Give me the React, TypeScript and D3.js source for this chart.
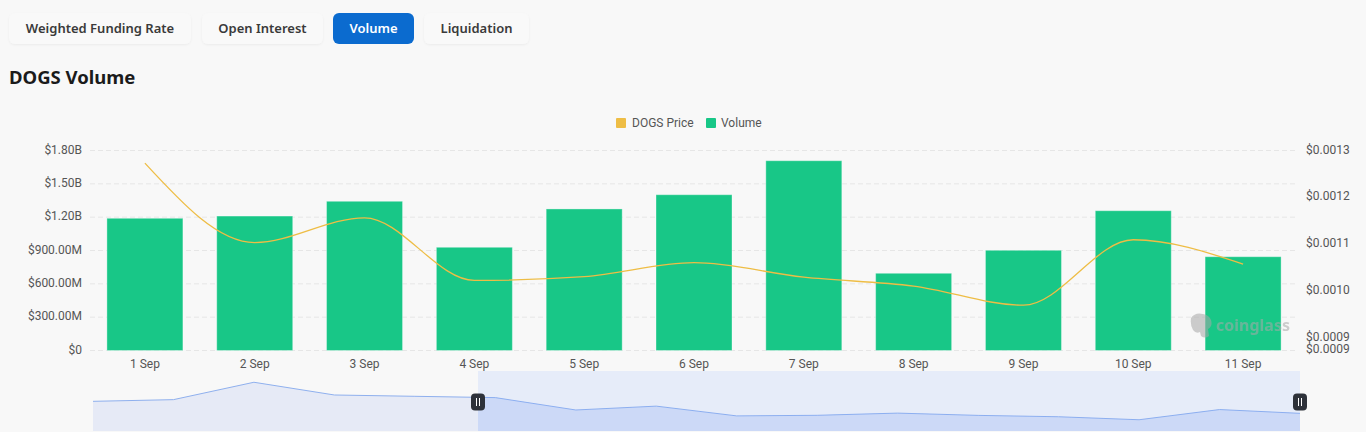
import React from "react";
import * as d3 from "d3";

// ---- data ----
const allDates = [
  "27 Aug", "28 Aug", "29 Aug", "30 Aug", "31 Aug",
  "1 Sep", "2 Sep", "3 Sep", "4 Sep", "5 Sep", "6 Sep",
  "7 Sep", "8 Sep", "9 Sep", "10 Sep", "11 Sep",
];
const dogsPrice = [
  0.001222, 0.001245, 0.001484, 0.001309, 0.001291,
  0.001273, 0.001103, 0.001156, 0.001022, 0.00103, 0.00106,
  0.001029, 0.00101, 0.000969, 0.001109, 0.001057,
];
const visibleDates = ["1 Sep", "2 Sep", "3 Sep", "4 Sep", "5 Sep", "6 Sep", "7 Sep", "8 Sep", "9 Sep", "10 Sep", "11 Sep"];
const volume = [1.19e9, 1.21e9, 1.343e9, 0.929e9, 1.274e9, 1.402e9, 1.708e9, 0.695e9, 0.902e9, 1.258e9, 0.844e9];
const leftTicks = [0, 3e8, 6e8, 9e8, 1.2e9, 1.5e9, 1.8e9];
const rightTicks = [0.0009, 0.001, 0.0011, 0.0012, 0.0013];
const tabs = ["Weighted Funding Rate", "Open Interest", "Volume", "Liquidation"];
const activeTab = "Volume";
const legendItems = ["DOGS Price", "Volume"];

// ---- styles ----
const W = 1366;
const H = 432;
const BG = "#f8f8f8";
const GREEN = "#18c787";
const YELLOW = "#eebd45";
const AXIS_FONT = "Roboto, 'Noto Sans', sans-serif";
const UI_FONT = "'Noto Sans', 'Open Sans', sans-serif";

const fmtLeft = (v: number) =>
  v === 0 ? "$0" : v >= 1e9 ? `$${(v / 1e9).toFixed(2)}B` : `$${(v / 1e6).toFixed(2)}M`;
const fmtRight = (v: number) => `$${v.toFixed(4)}`;

export default function App() {
  const plotL = 90, plotR = 1298, plotT = 150.5, plotB = 350.5;

  const x = d3.scaleBand<string>().domain(visibleDates).range([plotL, plotR]).paddingInner(0.308).paddingOuter(0.154);
  const cx = (d: string) => (x(d) as number) + x.bandwidth() / 2;
  const yL = d3.scaleLinear().domain([0, 1.8e9]).range([plotB, plotT]);
  const startIdx = allDates.indexOf(visibleDates[0]);
  const visPrice = dogsPrice.slice(startIdx);
  const rMin = d3.min(visPrice)! * 0.9;
  const yR = d3.scaleLinear().domain([rMin, 0.0013]).range([plotB, plotT]);

  const priceLine = d3
    .line<number>()
    .x((_, i) => cx(visibleDates[i]))
    .y((d) => yR(d))
    .curve(d3.curveMonotoneX);

  // slider
  const sT = 371, sB = 431, sL = 93, sR = 1300;
  const xs = d3.scalePoint<string>().domain(allDates).range([sL, sR]);
  const [pmin, pmax] = d3.extent(dogsPrice) as [number, number];
  const pad = (pmax - pmin) * 0.3;
  const ys = d3.scaleLinear().domain([pmin - pad, pmax + pad]).range([sB, sT]);
  const sLine = d3.line<number>().x((_, i) => xs(allDates[i])!).y((d) => ys(d));
  const sArea = d3.area<number>().x((_, i) => xs(allDates[i])!).y0(sB).y1((d) => ys(d));
  const selStart = 478;
  const selEnd = sR;

  // tabs layout
  const tabBoxes = [
    { x: 9, w: 182 },
    { x: 202, w: 121 },
    { x: 333, w: 81 },
    { x: 424, w: 105 },
  ];

  return (
    <svg width={W} height={H} style={{ position: "fixed", left: 0, top: 0, display: "block" }}>
      <defs>
        <filter id="sh" x="-10%" y="-30%" width="120%" height="170%">
          <feDropShadow dx="0" dy="1" stdDeviation="1" floodColor="#000" floodOpacity="0.05" />
        </filter>
        <clipPath id="selClip">
          <rect x={selStart} y={sT} width={selEnd - selStart} height={sB - sT} />
        </clipPath>
      </defs>
      <rect x={0} y={0} width={W} height={H} fill={BG} />

      {/* tabs */}
      {tabs.map((t, i) => {
        const b = tabBoxes[i];
        const active = t === activeTab;
        return (
          <g key={t}>
            <rect
              x={b.x}
              y={13}
              width={b.w}
              height={31}
              rx={6}
              fill={active ? "#0b6bcf" : "#f9f9f9"}
              filter={active ? undefined : "url(#sh)"}
            />
            <text
              x={b.x + b.w / 2}
              y={29}
              textAnchor="middle"
              dominantBaseline="middle"
              fontFamily={UI_FONT}
              fontWeight={600}
              fontSize={13}
              fill={active ? "#ffffff" : "#3a3a3a"}
            >
              {t}
            </text>
          </g>
        );
      })}

      {/* title */}
      <text x={9} y={84} fontFamily={UI_FONT} fontWeight={700} fontSize={18.5} fill="#1b1b1b">
        DOGS Volume
      </text>

      {/* legend */}
      <g fontFamily={AXIS_FONT} fontSize={12} fill="#555">
        <rect x={616} y={118} width={10} height={10} rx={1} fill={YELLOW} />
        <text x={632} y={123.5} dominantBaseline="middle">{legendItems[0]}</text>
        <rect x={706} y={118} width={10} height={10} rx={1} fill={GREEN} />
        <text x={721} y={123.5} dominantBaseline="middle">{legendItems[1]}</text>
      </g>

      {/* grid */}
      {leftTicks.map((t) => (
        <line
          key={t}
          x1={plotL}
          x2={plotR}
          y1={yL(t)}
          y2={yL(t)}
          stroke="#e6e6e6"
          strokeWidth={1}
          strokeDasharray="5 3"
        />
      ))}

      {/* left axis labels */}
      <g fontFamily={AXIS_FONT} fontSize={12} fill="#555">
        {leftTicks.map((t) => (
          <text key={t} x={82} y={yL(t)} textAnchor="end" dominantBaseline="middle">
            {fmtLeft(t)}
          </text>
        ))}
      </g>

      {/* right axis labels */}
      <g fontFamily={AXIS_FONT} fontSize={12} fill="#555">
        {rightTicks.map((t) => (
          <text key={t} x={1306} y={yR(t)} textAnchor="start" dominantBaseline="middle">
            {fmtRight(t)}
          </text>
        ))}
        <text x={1306} y={yR(rMin) - 1} textAnchor="start" dominantBaseline="middle">
          {fmtRight(rMin)}
        </text>
      </g>

      {/* bars */}
      {visibleDates.map((d, i) => (
        <rect
          key={d}
          x={x(d)}
          y={yL(volume[i])}
          width={x.bandwidth()}
          height={plotB - yL(volume[i])}
          fill={GREEN}
          stroke="rgba(255,255,255,0.35)"
          strokeWidth={1}
        />
      ))}

      {/* watermark */}
      <g opacity={0.55}>
        <path
          d="M1191,318 q4,-6 12,-4 q6,1 8,6 q2,6 -3,9 l1,7 q-4,3 -8,0 l-1,-4 q-4,2 -7,-2 q-3,-5 -2,-12 z"
          fill="#a8a8a8"
        />
        <text x={1216} y={331} fontFamily={UI_FONT} fontWeight={700} fontSize={16} fill="#a9a9a9">
          coinglass
        </text>
      </g>

      {/* price line */}
      <path d={priceLine(visPrice) || ""} fill="none" stroke={YELLOW} strokeWidth={1.3} />

      {/* x axis labels */}
      <g fontFamily={AXIS_FONT} fontSize={12} fill="#555">
        {visibleDates.map((d) => (
          <text key={d} x={cx(d)} y={364.5} textAnchor="middle" dominantBaseline="middle">
            {d}
          </text>
        ))}
      </g>

      {/* data zoom slider */}
      <path d={sArea(dogsPrice) || ""} fill="#e6eaf6" />
      <path d={sLine(dogsPrice) || ""} fill="none" stroke="#8fb0ee" strokeWidth={1} />
      <rect x={selStart} y={sT} width={selEnd - selStart} height={sB - sT} fill="rgba(135,175,255,0.16)" />
      <g clipPath="url(#selClip)">
        <path d={sArea(dogsPrice) || ""} fill="rgba(135,170,250,0.12)" />
      </g>
      {[selStart, selEnd].map((hx) => (
        <g key={hx}>
          <rect x={hx - 7} y={393.5} width={14} height={17} rx={4} fill="#2e323a" />
          <line x1={hx - 1.5} x2={hx - 1.5} y1={398} y2={406} stroke="#fff" strokeWidth={1} />
          <line x1={hx + 1.5} x2={hx + 1.5} y1={398} y2={406} stroke="#fff" strokeWidth={1} />
        </g>
      ))}
    </svg>
  );
}
